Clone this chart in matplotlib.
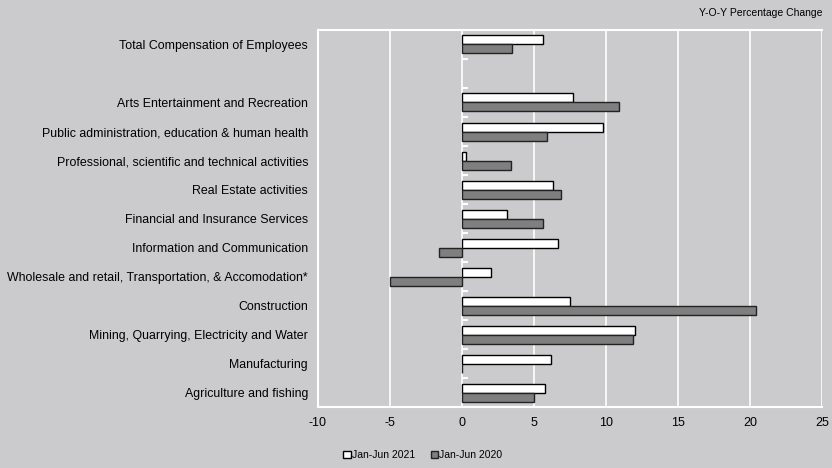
import numpy as np
import matplotlib.pyplot as plt

plt.rcParams['font.family'] = ['Liberation Sans', 'DejaVu Sans']

categories = [
    "Total Compensation of Employees",
    "",
    "Arts Entertainment and Recreation",
    "Public administration, education & human health",
    "Professional, scientific and technical activities",
    "Real Estate activities",
    "Financial and Insurance Services",
    "Information and Communication",
    "Wholesale and retail, Transportation, & Accomodation*",
    "Construction",
    "Mining, Quarrying, Electricity and Water",
    "Manufacturing",
    "Agriculture and fishing",
]
jan_jun_2021 = [5.6, np.nan, 7.7, 9.8, 0.3, 6.3, 3.1, 6.7, 2.0, 7.5, 12.0, 6.2, 5.8]
jan_jun_2020 = [3.5, np.nan, 10.9, 5.9, 3.4, 6.9, 5.6, -1.6, -5.0, 20.4, 11.9, 0.0, 5.0]
x_ticks = [-10, -5, 0, 5, 10, 15, 20, 25]

bg = '#cbcbcd'
fig = plt.figure(figsize=(8.32, 4.68), dpi=100, facecolor=bg)
ax = fig.add_axes([0.382, 0.130, 0.606, 0.806], facecolor=bg)

n = len(categories)
y = np.arange(n)[::-1]
h = 0.31
ax.barh(y + h / 2, jan_jun_2021, height=h, color='white', edgecolor='black',
        linewidth=1.0, label='Jan-Jun 2021', zorder=3)
ax.barh(y - h / 2, jan_jun_2020, height=h, color='#7f7f7f', edgecolor='#222222',
        linewidth=1.0, label='Jan-Jun 2020', zorder=3)

ax.set_xlim(-10, 25)
ax.set_ylim(-0.5, n - 0.5)
ax.set_xticks(x_ticks)
ax.set_xticklabels([str(t) for t in x_ticks], fontsize=9)
ax.set_yticks(y)
ax.set_yticklabels(categories, fontsize=8.9)
ax.tick_params(axis='both', length=0)
ax.tick_params(axis='x', pad=7)
ax.tick_params(axis='y', pad=7)

ax.grid(axis='x', color='white', linewidth=1.2, zorder=1)
for s in ax.spines.values():
    s.set_color('white')
    s.set_linewidth(1.5)
ax.spines['right'].set_visible(False)

# small white marks on the zero line between categories
ax.hlines(np.arange(n - 1) + 0.5, 0, 0.4, color='white', linewidth=1.5, zorder=2)

fig.text(0.988, 0.972, "Y-O-Y Percentage Change", ha='right', va='center', fontsize=7.5)

leg = fig.legend(loc='center', bbox_to_anchor=(0.508, 0.028), ncol=2, frameon=False,
                 fontsize=7.5, handlelength=0.7, handleheight=0.7, handletextpad=0.1,
                 columnspacing=1.5)

fig.savefig('out.png', dpi=100, facecolor=bg)
